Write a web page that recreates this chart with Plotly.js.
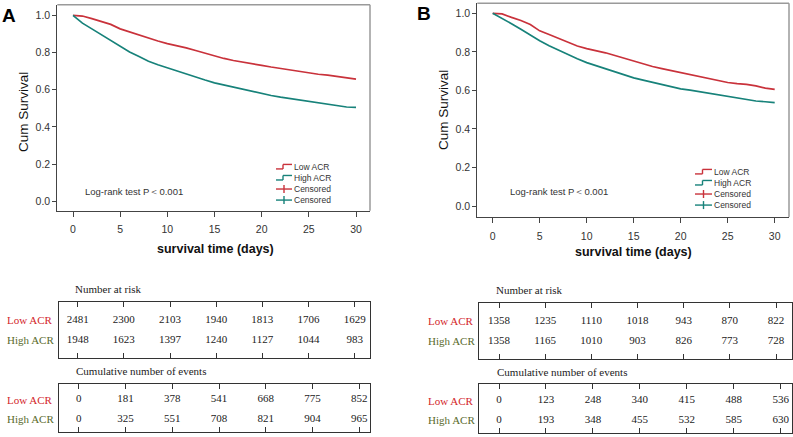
<!DOCTYPE html>
<html><head><meta charset="utf-8">
<script src="https://cdn.plot.ly/plotly-3.0.1.min.js"></script>
<style>html,body{margin:0;padding:0;background:#fff}#chart{width:793px;height:437px}</style>
</head><body><div id="chart"></div>
<script>
// ---------- data ----------
const days = [0,1,2,3,4,5,6,7,8,9,10,11,12,13,14,15,16,17,18,19,20,21,22,23,24,25,26,27,28,29,30];
const survA_low  = [1.000,0.996,0.982,0.967,0.951,0.927,0.910,0.894,0.877,0.862,0.848,0.838,0.825,0.811,0.796,0.782,0.768,0.757,0.747,0.739,0.731,0.722,0.714,0.706,0.698,0.688,0.683,0.678,0.670,0.663,0.657];
const survA_high = [1.000,0.958,0.927,0.896,0.863,0.833,0.803,0.778,0.753,0.734,0.717,0.700,0.684,0.668,0.652,0.637,0.625,0.613,0.601,0.590,0.579,0.569,0.560,0.552,0.544,0.536,0.528,0.519,0.511,0.507,0.505];
const survB_low  = [1.000,0.997,0.979,0.963,0.942,0.909,0.890,0.869,0.848,0.830,0.817,0.807,0.795,0.781,0.766,0.750,0.737,0.724,0.713,0.703,0.694,0.684,0.672,0.661,0.652,0.641,0.635,0.631,0.623,0.612,0.605];
const survB_high = [1.000,0.975,0.946,0.917,0.887,0.858,0.832,0.808,0.786,0.764,0.744,0.728,0.713,0.699,0.681,0.665,0.653,0.641,0.630,0.618,0.608,0.601,0.593,0.585,0.577,0.569,0.561,0.552,0.545,0.541,0.536];

const xTicks = [0,5,10,15,20,25,30];
const yTicks = [0,0.2,0.4,0.6,0.8,1.0];
const tableTimes = [0,5,10,15,20,25,30];
const riskA_low    = [2481,2300,2103,1940,1813,1706,1629];
const riskA_high   = [1948,1623,1397,1240,1127,1044,983];
const eventsA_low  = [0,181,378,541,668,775,852];
const eventsA_high = [0,325,551,708,821,904,965];
const riskB_low    = [1358,1235,1110,1018,943,870,822];
const riskB_high   = [1358,1165,1010,903,826,773,728];
const eventsB_low  = [0,123,248,340,415,488,536];
const eventsB_high = [0,193,348,455,532,585,630];

const groupLabels = ['Low ACR','High ACR'];
const censorLabel = 'Censored';
const panelLabels = ['A','B'];
const yTitle = 'Cum Survival';
const xTitle = 'survival time (days)';
const testText = 'Log-rank test P＜0.001';
const riskTitle = 'Number at risk';
const eventsTitle = 'Cumulative number of events';

// ---------- styling / layout helpers ----------
const W = 793, H = 437;
const RED = '#c9323b', TEAL = '#17827a';
const LBL_RED = '#d3262b', LBL_OLIVE = '#5a6a2c';
const SANS = 'Liberation Sans, Arial, sans-serif';
const SERIF = 'Liberation Serif, Times New Roman, serif';
const px = v => v / W, py = v => 1 - v / H;
function rng(d0, d1, p0, v0, p1, v1) {
  const s = (p1 - p0) / (v1 - v0);
  const a = v0 + (d0 - p0) / s, b = v0 + (d1 - p0) / s;
  return [Math.min(a, b), Math.max(a, b)];
}

const plotAxisX = (dom, range) => ({
  domain: dom, range: range, showline: true, linecolor: '#444', linewidth: 1,
  ticks: 'outside', ticklen: 5, tickcolor: '#444', tickwidth: 1, tickvals: xTicks,
  showgrid: false, zeroline: false, ticklabelstandoff: 4,
  tickfont: {family: SANS, size: 10.5, color: '#333'}, fixedrange: true
});
const plotAxisY = (dom, range, anchor) => ({
  domain: dom, range: range, showline: true, linecolor: '#444', linewidth: 1,
  ticks: 'outside', ticklen: 4, tickcolor: '#444', tickwidth: 1, tickvals: yTicks, tickformat: '.1f',
  showgrid: false, zeroline: false, anchor: anchor,
  tickfont: {family: SANS, size: 10.5, color: '#333'}, fixedrange: true
});
const tabAxisX = (dom, range, anchor) => ({
  domain: dom, range: range, anchor: anchor, showline: true, mirror: 'ticks', linecolor: '#333', linewidth: 1,
  ticks: 'inside', ticklen: 5, tickcolor: '#333', tickvals: tableTimes, showticklabels: false,
  showgrid: false, zeroline: false, fixedrange: true
});
const tabAxisY = (dom, range, anchor) => ({
  domain: dom, range: range, anchor: anchor, showline: true, mirror: true, linecolor: '#333', linewidth: 1,
  ticks: '', showticklabels: false, showgrid: false, zeroline: false, fixedrange: true
});

function curve(x, y, color, xa, ya) {
  return {x: x, y: y, type: 'scatter', mode: 'lines', line: {shape: 'linear', color: color, width: 1.7},
          xaxis: xa, yaxis: ya, hoverinfo: 'skip', showlegend: false};
}
function row(vals, rowY, xa, ya) {
  return {x: tableTimes, y: vals.map(() => rowY), text: vals.map(String), type: 'scatter', mode: 'text',
          textposition: 'middle center', textfont: {family: SERIF, size: 11, color: '#222'},
          xaxis: xa, yaxis: ya, hoverinfo: 'skip', showlegend: false, cliponaxis: false};
}

const traces = [
  curve(days, survA_low, RED, 'x', 'y'),
  curve(days, survA_high, TEAL, 'x', 'y'),
  curve(days, survB_low, RED, 'x2', 'y2'),
  curve(days, survB_high, TEAL, 'x2', 'y2'),
  row(riskA_low, 2, 'x3', 'y3'), row(riskA_high, 1, 'x3', 'y3'),
  row(eventsA_low, 2, 'x4', 'y4'), row(eventsA_high, 1, 'x4', 'y4'),
  row(riskB_low, 2, 'x5', 'y5'), row(riskB_high, 1, 'x5', 'y5'),
  row(eventsB_low, 2, 'x6', 'y6'), row(eventsB_high, 1, 'x6', 'y6')
];

const ann = [];
const shapes = [];
function txt(text, x, y, opts) {
  ann.push(Object.assign({text: text, x: px(x), y: py(y), xref: 'paper', yref: 'paper', showarrow: false,
    xanchor: 'center', yanchor: 'middle', font: {family: SANS, size: 10, color: '#222'}}, opts || {}));
}
function pline(x0, y0, x1, y1, color, w) {
  shapes.push({type: 'line', xref: 'paper', yref: 'paper', x0: px(x0), y0: py(y0), x1: px(x1), y1: py(y1),
               line: {color: color, width: w || 1.4}});
}
// legend: one multi-line text block, symbols drawn at the line positions
function legend(x0, x1, centerY, textX) {
  const fs = 8.5, lh = fs * 1.3;
  const cols = [RED, TEAL];
  const m = (x0 + x1) / 2;
  const rows = [0, 1, 2, 3].map(i => centerY + (i - 1.5) * lh);
  for (let i = 0; i < 2; i++) {
    const y = rows[i];
    pline(x0, y + 2, m - 1, y + 2, cols[i]);
    pline(m - 1, y + 2, m - 1, y - 2.5, cols[i]);
    pline(m - 1, y - 2.5, x1, y - 2.5, cols[i]);
  }
  for (let i = 0; i < 2; i++) {
    const y = rows[2 + i];
    pline(x0, y, x1, y, cols[i]);
    pline(m, y - 4, m, y + 4, cols[i]);
  }
  txt([groupLabels[0], groupLabels[1], censorLabel, censorLabel].join('<br>'), textX, centerY,
      {xanchor: 'left', align: 'left', borderpad: 0, font: {family: SANS, size: fs, color: '#333'}});
}
function frame(xa, ya) {
  shapes.push({type: 'line', xref: xa + ' domain', yref: ya + ' domain', x0: 0, x1: 1, y0: 1, y1: 1, line: {color: '#9a9a9a', width: 1.5}});
  shapes.push({type: 'line', xref: xa + ' domain', yref: ya + ' domain', x0: 1, x1: 1, y0: 0, y1: 1, line: {color: '#9a9a9a', width: 1.5}});
}

// Panel A texts
txt(panelLabels[0], 9, 15, {font: {family: SANS, size: 19, color: '#000', weight: 'bold'}});
txt(yTitle, 23, 112, {textangle: -90, font: {family: SANS, size: 13.5, color: '#111'}});
txt(xTitle, 215, 249, {font: {family: SANS, size: 12.5, color: '#111', weight: 'bold'}});
txt(testText, 83, 191, {xanchor: 'left', font: {family: SANS, size: 9.5, color: '#333'}});
legend(276, 292, 183.5, 293);
txt(riskTitle, 73, 289, {xanchor: 'left', font: {family: SERIF, size: 11, color: '#222'}});
txt(eventsTitle, 74, 371, {xanchor: 'left', font: {family: SERIF, size: 11, color: '#222'}});
[[320.3, 0], [340.3, 1], [399.7, 0], [419.3, 1]].forEach(([y, g]) =>
  txt(groupLabels[g], 5, y, {xanchor: 'left', font: {family: SERIF, size: 11, color: g ? LBL_OLIVE : LBL_RED}}));

// Panel B texts
txt(panelLabels[1], 424, 13, {font: {family: SANS, size: 19, color: '#000', weight: 'bold'}});
txt(yTitle, 443, 110, {textangle: -90, font: {family: SANS, size: 13.5, color: '#111'}});
txt(xTitle, 633, 252, {font: {family: SANS, size: 12.5, color: '#111', weight: 'bold'}});
txt(testText, 508, 192, {xanchor: 'left', font: {family: SANS, size: 9.5, color: '#333'}});
legend(695, 712, 188.5, 713);
txt(riskTitle, 494, 290, {xanchor: 'left', font: {family: SERIF, size: 11, color: '#222'}});
txt(eventsTitle, 495, 372, {xanchor: 'left', font: {family: SERIF, size: 11, color: '#222'}});
[[321, 0], [341, 1], [400.7, 0], [420.3, 1]].forEach(([y, g]) =>
  txt(groupLabels[g], 426, y, {xanchor: 'left', font: {family: SERIF, size: 11, color: g ? LBL_OLIVE : LBL_RED}}));

frame('x', 'y');
frame('x2', 'y2');

const layout = {
  width: W, height: H, margin: {l: 0, r: 0, t: 0, b: 0}, paper_bgcolor: '#fff', plot_bgcolor: '#fff',
  showlegend: false,
  xaxis:  plotAxisX([px(57.3), px(370)], rng(57.3, 370, 73, 0, 356, 30)),
  yaxis:  plotAxisY([py(210.7), py(4.7)], rng(210.7, 4.7, 201.3, 0, 15.3, 1), 'x'),
  xaxis2: Object.assign(plotAxisX([px(477.3), px(789)], rng(477.3, 789, 492.7, 0, 774.7, 30)), {anchor: 'y2'}),
  yaxis2: plotAxisY([py(217), py(3.3)], rng(217, 3.3, 206, 0, 13.3, 1), 'x2'),
  xaxis3: tabAxisX([px(58.7), px(370)], rng(58.7, 370, 77.7, 0, 354.7, 30), 'y3'),
  yaxis3: tabAxisY([py(358), py(302.3)], rng(358, 302.3, 340.3, 1, 320.3, 2), 'x3'),
  xaxis4: tabAxisX([px(58.7), px(370)], rng(58.7, 370, 78.7, 0, 359.3, 30), 'y4'),
  yaxis4: tabAxisY([py(432.3), py(384)], rng(432.3, 384, 419.3, 1, 399.7, 2), 'x4'),
  xaxis5: tabAxisX([px(479.3), px(791.7)], rng(479.3, 791.7, 499, 0, 776, 30), 'y5'),
  yaxis5: tabAxisY([py(359), py(303.3)], rng(359, 303.3, 341, 1, 321, 2), 'x5'),
  xaxis6: tabAxisX([px(479.3), px(791.7)], rng(479.3, 791.7, 499, 0, 780.7, 30), 'y6'),
  yaxis6: tabAxisY([py(433.3), py(384.3)], rng(433.3, 384.3, 420.3, 1, 400.7, 2), 'x6'),
  annotations: ann, shapes: shapes
};
Plotly.newPlot('chart', traces, layout, {displayModeBar: false, staticPlot: true});
</script></body></html>
